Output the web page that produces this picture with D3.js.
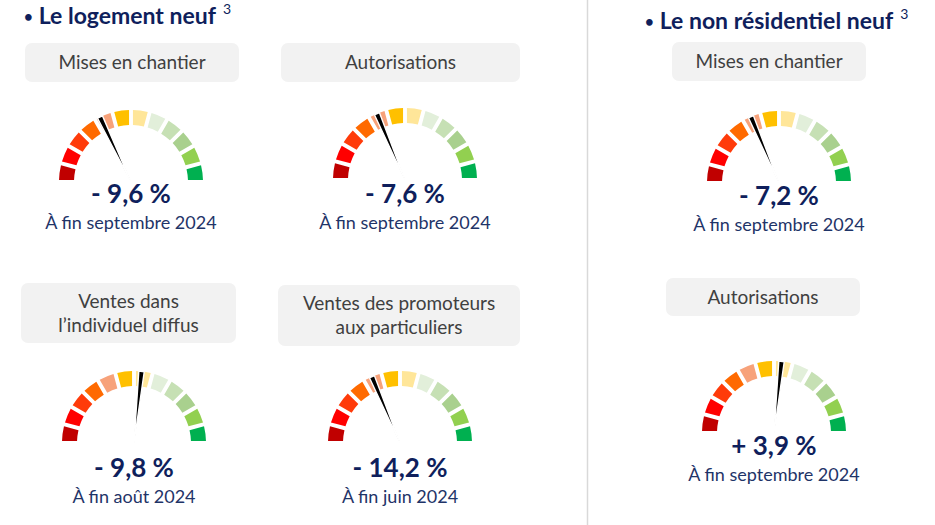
<!DOCTYPE html>
<html>
<head>
<meta charset="utf-8">
<script src="https://cdn.jsdelivr.net/npm/d3@7"></script>
<style>
  html, body { margin: 0; padding: 0; background: #fff; }
  svg { display: block; font-family: Lato, "Open Sans", sans-serif; }
</style>
</head>
<body>
<svg id="chart" width="935" height="525"></svg>
<script>
// ---------------- DATA ----------------
const sectionTitles = ["Le logement neuf", "Le non résidentiel neuf"];
const sectionNote = "3";
const gaugeLabels = [
  ["Mises en chantier"],
  ["Autorisations"],
  ["Mises en chantier"],
  ["Ventes dans", "l\u2019individuel diffus"],
  ["Ventes des promoteurs", "aux particuliers"],
  ["Autorisations"]
];
const gaugeValues = [-9.6, -7.6, -7.2, -9.8, -14.2, 3.9];
const gaugeDates = [
  "À fin septembre 2024", "À fin septembre 2024", "À fin septembre 2024",
  "À fin août 2024", "À fin juin 2024", "À fin septembre 2024"
];
// needle position on the 12-segment scale (0 = far left, 12 = far right)
const needlePositions = [4.3, 4.47, 4.47, 6.4, 4.47, 6.4];
const segmentColors = ["#c00000", "#ff0000", "#ff3b0a", "#ff6a00", "#f7a27a", "#ffc000",
                       "#ffe699", "#e2efda", "#c6e0b4", "#a9d08e", "#92d050", "#00b050"];

// ---------------- LAYOUT ----------------
const layout = [
  { cx: 131, cy: 182, box: [25, 43, 214, 39],  val: 203, date: 229 },
  { cx: 405, cy: 180, box: [281, 43, 239, 39], val: 203, date: 229 },
  { cx: 779, cy: 183, box: [672, 42, 194, 39], val: 205, date: 231 },
  { cx: 134, cy: 443, box: [21, 283, 215, 60], val: 477, date: 503 },
  { cx: 400, cy: 443, box: [278, 285, 242, 61], val: 477, date: 503 },
  { cx: 774, cy: 433, box: [666, 278, 194, 38], val: 455, date: 481 }
];
const titlePos = [{ x: 24, y: 24 }, { x: 645, y: 29 }];
const rOuter = 72, rInner = 57;
const navy = "#0f1f5c";

const svg = d3.select("#chart");

// divider
svg.append("line").attr("x1", 587.5).attr("x2", 587.5).attr("y1", 0).attr("y2", 525)
  .attr("stroke", "#d9d9d9").attr("stroke-width", 1.5);

// section titles
sectionTitles.forEach((t, i) => {
  const txt = svg.append("text").attr("x", titlePos[i].x).attr("y", titlePos[i].y)
    .attr("fill", navy).attr("font-weight", 700).attr("font-size", 23);
  txt.append("tspan").attr("font-size", 15).attr("dy", -2).text("\u2022");
  txt.append("tspan").attr("dx", 6).attr("dy", 2).text(t);
  txt.append("tspan").attr("font-weight", 400).attr("font-size", 14)
    .attr("dx", 7).attr("dy", -10).text(sectionNote);
});

const angle = d3.scaleLinear().domain([0, segmentColors.length]).range([-Math.PI / 2, Math.PI / 2]);
const arc = d3.arc().innerRadius(rInner).outerRadius(rOuter).padAngle(0.06).padRadius(rOuter - 7);

gaugeValues.forEach((v, i) => {
  const L = layout[i];
  // label box
  const [bx, by, bw, bh] = L.box;
  svg.append("rect").attr("x", bx).attr("y", by).attr("width", bw).attr("height", bh)
    .attr("rx", 7).attr("fill", "#f2f2f2");
  const lines = gaugeLabels[i];
  const lh = 24;
  const startY = by + bh / 2 - (lines.length - 1) * lh / 2 + 6.5;
  lines.forEach((ln, k) => {
    svg.append("text").attr("x", bx + bw / 2).attr("y", startY + k * lh)
      .attr("text-anchor", "middle").attr("font-size", 19).attr("fill", "#404040").text(ln);
  });

  // gauge
  const g = svg.append("g").attr("transform", `translate(${L.cx},${L.cy})`);
  g.selectAll("path.seg").data(segmentColors).join("path").attr("class", "seg")
    .attr("d", (c, k) => arc({ startAngle: angle(k), endAngle: angle(k + 1) }))
    .attr("fill", c => c);

  // needle
  const a = angle(needlePositions[i]);
  const tipL = d3.pointRadial(a - 0.038, rOuter);
  const tipR = d3.pointRadial(a + 0.038, rOuter);
  const base = d3.pointRadial(a, 0);
  g.append("path").attr("d", d3.line()([base, tipL, tipR]) + "Z")
    .attr("fill", "#000").attr("stroke", "#fff").attr("stroke-width", 1.4)
    .attr("stroke-linejoin", "round");

  // value
  const fmt = (Math.abs(v).toFixed(1)).replace(".", ",");
  svg.append("text").attr("x", L.cx).attr("y", L.val).attr("text-anchor", "middle")
    .attr("font-size", 26).attr("font-weight", 700).attr("fill", navy)
    .text((v < 0 ? "- " : "+ ") + fmt + " %");
  svg.append("text").attr("x", L.cx).attr("y", L.date).attr("text-anchor", "middle")
    .attr("font-size", 18).attr("fill", "#1f3468").text(gaugeDates[i]);
});
</script>
</body>
</html>
